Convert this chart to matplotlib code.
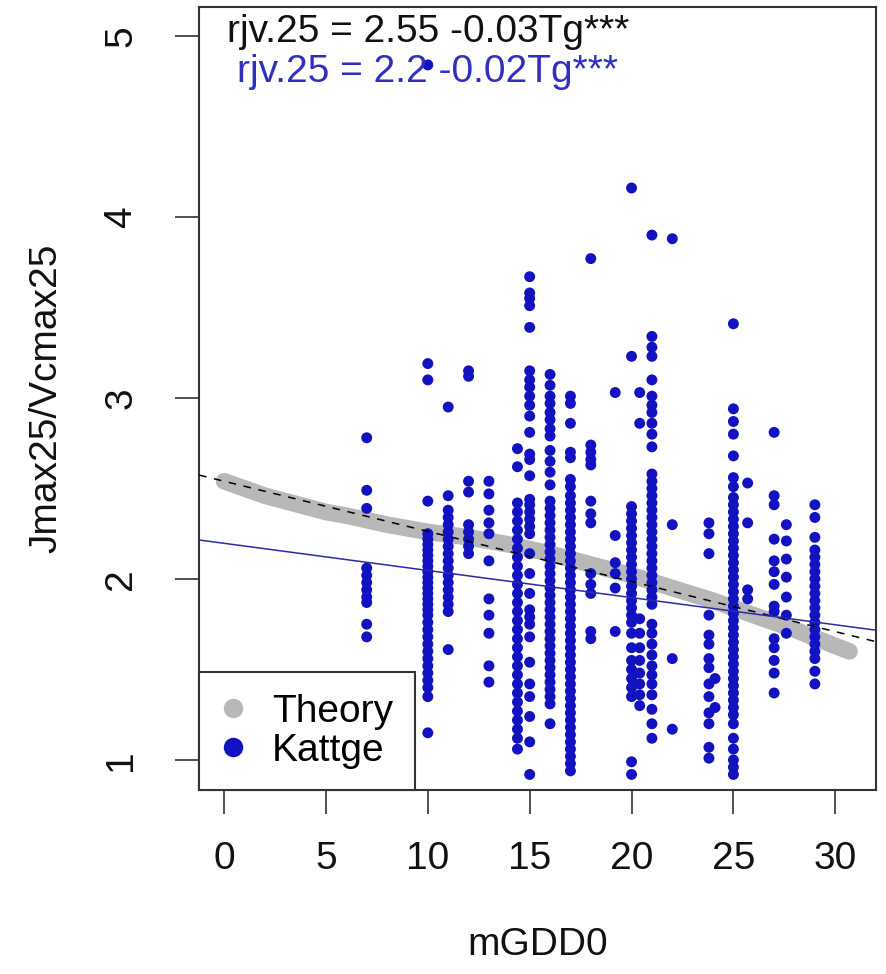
import matplotlib
matplotlib.use("Agg")
import matplotlib.pyplot as plt
from matplotlib.lines import Line2D

plt.rcParams['font.family'] = ['Liberation Sans', 'DejaVu Sans']

# theory curve
theory_x = [0, 1, 2, 3, 4, 5, 6, 8, 10, 12, 14, 16, 18, 20, 22, 24, 26, 28, 30, 30.7]
theory_y = [2.54, 2.50, 2.46, 2.43, 2.40, 2.37, 2.35, 2.30, 2.26, 2.23, 2.19, 2.14,
            2.08, 2.02, 1.95, 1.88, 1.80, 1.72, 1.63, 1.60]

# fitted lines: intercept, slope
theory_fit = (2.54, -0.0277)
kattge_fit = (2.197, -0.0150)

# Kattge observations, one column of y values per mGDD0 value
k07 = [2.78, 2.49, 2.39, 2.06, 2.02, 1.98, 1.94, 1.90, 1.87, 1.75, 1.68]
k10 = [4.84, 3.19, 3.10, 2.43, 2.25, 2.22, 2.19, 2.16, 2.13, 2.10, 2.07, 2.04, 2.01,
       1.98, 1.95, 1.92, 1.89, 1.86, 1.83, 1.80, 1.76, 1.72, 1.68, 1.64, 1.60, 1.56,
       1.52, 1.48, 1.44, 1.40, 1.35, 1.15]
k11 = [2.95, 2.46, 2.38, 2.34, 2.30, 2.26, 2.22, 2.18, 2.14, 2.10, 2.06, 2.02, 1.98,
       1.94, 1.90, 1.86, 1.82, 1.61]
k12 = [3.15, 3.12, 2.54, 2.48, 2.30, 2.26, 2.22, 2.18, 2.14]
k13 = [2.54, 2.47, 2.38, 2.31, 2.25, 2.10, 1.89, 1.80, 1.70, 1.52, 1.43]
k14 = [2.72, 2.62, 2.42, 2.37, 2.32, 2.27, 2.22, 2.17, 2.12, 2.07, 2.02, 1.97, 1.92,
       1.87, 1.82, 1.77, 1.72, 1.67, 1.62, 1.57, 1.52, 1.47, 1.42, 1.37, 1.32, 1.27,
       1.22, 1.17, 1.12, 1.06]
k15 = [3.67, 3.58, 3.55, 3.51, 3.39, 3.15, 3.10, 3.06, 3.01, 2.96, 2.90, 2.81, 2.69,
       2.66, 2.57, 2.44, 2.41, 2.37, 2.33, 2.29, 2.25, 2.14, 2.03, 1.92, 1.83, 1.79,
       1.75, 1.68, 1.54, 1.42, 1.35, 1.24, 1.10, 0.92]
k16 = [3.13, 3.07, 3.01, 2.97, 2.92, 2.88, 2.83, 2.79, 2.71, 2.65, 2.59, 2.52, 2.43,
       2.39, 2.35, 2.31, 2.27, 2.23, 2.19, 2.15, 2.11, 2.07, 2.03, 1.99, 1.95, 1.91,
       1.87, 1.83, 1.79, 1.75, 1.71, 1.67, 1.63, 1.59, 1.55, 1.51, 1.47, 1.43, 1.39,
       1.35, 1.31, 1.20]
k17 = [3.01, 2.97, 2.86, 2.70, 2.67, 2.55, 2.51, 2.46, 2.42, 2.38, 2.34, 2.30, 2.26,
       2.22, 2.18, 2.14, 2.10, 2.06, 2.02, 1.98, 1.94, 1.90, 1.86, 1.82, 1.78, 1.74,
       1.70, 1.66, 1.62, 1.58, 1.54, 1.50, 1.46, 1.42, 1.38, 1.34, 1.30, 1.26, 1.22,
       1.18, 1.14, 1.10, 1.06, 1.02, 0.98, 0.94]
k18 = [3.77, 2.74, 2.70, 2.66, 2.63, 2.43, 2.36, 2.31, 2.03, 1.97, 1.92, 1.71, 1.67]
k19 = [3.03, 2.24, 2.09, 2.03, 1.95, 1.71]
k20 = [4.16, 3.23, 2.40, 2.36, 2.32, 2.28, 2.24, 2.20, 2.16, 2.12, 2.08, 2.04, 2.00,
       1.96, 1.92, 1.88, 1.84, 1.80, 1.76, 1.70, 1.62, 1.55, 1.50, 1.45, 1.40, 1.35,
       0.99, 0.92]
k20b = [3.03, 2.86, 1.78, 1.70, 1.62, 1.55, 1.48, 1.42, 1.36, 1.30]
k21 = [3.90, 3.34, 3.28, 3.23, 3.10, 3.01, 2.96, 2.92, 2.86, 2.80, 2.73, 2.58, 2.54,
       2.50, 2.46, 2.42, 2.38, 2.34, 2.30, 2.26, 2.22, 2.18, 2.14, 2.10, 2.06, 2.02,
       1.98, 1.94, 1.90, 1.86, 1.75, 1.70, 1.64, 1.58, 1.52, 1.47, 1.42, 1.36, 1.28,
       1.20, 1.12]
k22 = [3.88, 2.30, 1.56, 1.17]
k24 = [2.31, 2.25, 2.14, 1.80, 1.69, 1.64, 1.56, 1.51, 1.42, 1.35, 1.26, 1.20, 1.07, 1.01]
k24b = [1.45, 1.29]
k25 = [3.41, 2.94, 2.87, 2.80, 2.68, 2.56, 2.51, 2.45, 2.41, 2.37, 2.33, 2.29, 2.25,
       2.21, 2.17, 2.13, 2.09, 2.05, 2.01, 1.97, 1.93, 1.89, 1.85, 1.81, 1.77, 1.73,
       1.69, 1.65, 1.61, 1.57, 1.53, 1.49, 1.45, 1.41, 1.37, 1.33, 1.29, 1.25, 1.20,
       1.12, 1.06, 1.00, 0.96, 0.92]
k26 = [2.53, 2.31, 1.94, 1.89]
k27 = [2.81, 2.46, 2.41, 2.22, 2.10, 2.04, 1.97, 1.85, 1.82, 1.67, 1.62, 1.55, 1.48, 1.37]
k28 = [2.30, 2.21, 2.11, 2.01, 1.90, 1.80, 1.70]
k29 = [2.41, 2.34, 2.23, 2.16, 2.12, 2.08, 2.04, 2.00, 1.96, 1.92, 1.88, 1.84, 1.80,
       1.76, 1.72, 1.68, 1.64, 1.60, 1.56, 1.49, 1.42]

kattge_gdd = [7, 10, 11, 12, 13, 14.4, 15, 16, 17, 18, 19.2, 20, 20.4, 21, 22,
              23.8, 24.1, 25, 25.7, 27, 27.6, 29]
kattge_cols = [k07, k10, k11, k12, k13, k14, k15, k16, k17, k18, k19, k20, k20b, k21,
               k22, k24, k24b, k25, k26, k27, k28, k29]

grey = '#b8b8b8'
blue = '#1212c0'
fs = 28

fig = plt.figure(figsize=(8.87, 9.74), dpi=100)
ax = fig.add_axes([0.2244, 0.1889, 0.7632, 0.8039])

ax.plot(theory_x, theory_y, color=grey, lw=12, solid_capstyle='round', zorder=1)

for g, ys in zip(kattge_gdd, kattge_cols):
    ax.scatter([g] * len(ys), ys, s=62, color=blue, edgecolors='none', zorder=2)

xl = (-1.23, 32.0)
ax.plot(xl, [theory_fit[0] + theory_fit[1] * v for v in xl], color='black', lw=1.1,
        linestyle=(0, (5, 5)), zorder=3)
ax.plot(xl, [kattge_fit[0] + kattge_fit[1] * v for v in xl], color='#2a2aa8', lw=1.1,
        zorder=3)

ax.text(10, 5.02, 'rjv.25 = 2.55 -0.03Tg***', ha='center', va='center', fontsize=fs,
        color='#111111')
ax.text(10, 4.80, 'rjv.25 = 2.2 -0.02Tg***', ha='center', va='center', fontsize=fs,
        color='#3030c0')

ax.set_xlim(xl)
ax.set_ylim(0.834, 5.16)
ax.set_xticks([0, 5, 10, 15, 20, 25, 30])
ax.set_yticks([1, 2, 3, 4, 5])
ax.tick_params(length=17, width=1.2, color='#333333', labelsize=fs, labelcolor='#111111')
ax.tick_params(axis='x', pad=20)
ax.tick_params(axis='y', pad=26)
for lab in ax.get_yticklabels():
    lab.set_rotation(90)
    lab.set_va('center')
for sp in ax.spines.values():
    sp.set_color('#333333')
    sp.set_linewidth(1.5)

ax.set_xlabel('mGDD0', fontsize=fs, color='#111111', labelpad=36)
ax.set_ylabel('Jmax25/Vcmax25', fontsize=fs, color='#111111', labelpad=28)

handles = [Line2D([], [], marker='o', ls='none', color=grey, markersize=13),
           Line2D([], [], marker='o', ls='none', color=blue, markersize=13)]
leg = ax.legend(handles, ['Theory', 'Kattge'], loc='lower left', fontsize=fs,
                borderaxespad=0, fancybox=False, framealpha=1, handletextpad=0.68,
                labelspacing=0.08, borderpad=0.55, handlelength=0.65)
leg.get_frame().set_edgecolor('#333333')
leg.get_frame().set_linewidth(1.5)

fig.savefig('out.png', dpi=100)
